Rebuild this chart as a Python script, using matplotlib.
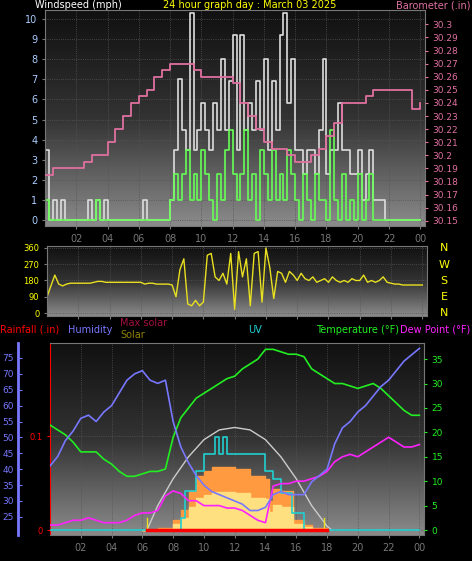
import numpy as np
import matplotlib.pyplot as plt
from matplotlib.colors import LinearSegmentedColormap

# ---- data ----
gust = [3.5,0,1,0,1,0,0,0,0,
        0,0,1,0,1,0,1,0,
        0,0,0,0,0,0,0,0,
        1,0,0,0,0,0,0,1,
        3.5,7,4.5,3.5,10.3,3.5,4.5,5.8,
        4.5,3.5,5.8,4.5,8,4.5,6.9,9.2,
        3.5,9.2,4.5,5.8,4.5,6.9,4.5,8,
        3.5,6.9,4.5,9.2,10.3,5.8,8,3.5,
        3.5,2.3,3.5,3.5,2.3,4.5,8,2.3,
        3.5,3.5,5.8,3.5,3.5,2.3,2.3,3.5,
        1,2.3,3.5,1,1,1,0,0,
        0,0,0,0,0,0,0,0]
avg = [1,0,0,0,0,0,0,0,0,
       0,0,0,0,1,0,0,0,
       0,0,0,0,0,0,0,0,
       0,0,0,0,0,0,0,1,
       2.3,1,2.3,3.5,1,2.3,1,3.5,
       2.3,1,0,2.3,1,3.5,4.5,2.3,
       1,2.3,4.5,1,2.3,0,3.5,2.3,
       1,3.5,1,2.3,1,3.5,2.3,1,
       0,2.3,1,0,2.3,1,1,0,
       4.5,1,0,2.3,0,1,0,2.3,
       0,1,2.3,0,0,0,0,0,
       0,0,0,0,0,0,0,0]
baro = [30.185,30.19,30.19,30.19,30.19,30.195,30.2,30.2,30.21,30.22,30.23,30.24,
        30.245,30.25,30.26,30.265,30.27,30.27,30.27,30.265,30.26,30.26,30.26,30.26,
        30.255,30.24,30.23,30.22,30.21,30.205,30.205,30.2,30.195,30.195,30.2,30.205,
        30.215,30.225,30.24,30.24,30.24,30.245,30.25,30.25,30.25,30.25,30.25,30.235,30.24]
wdir = [90,150,210,160,150,160,165,165,165,
        165,165,165,170,175,175,170,170,
        170,170,170,170,170,170,170,170,
        160,165,165,160,160,160,160,155,
        90,240,300,50,40,70,40,60,
        320,330,200,180,220,160,330,20,
        340,200,300,40,330,340,60,360,
        250,80,230,220,170,230,210,180,
        220,190,180,200,170,180,190,170,
        200,180,170,180,170,190,180,180,
        210,170,180,170,180,200,170,165,
        160,160,155,155,155,155,155,155]
humidity = [41,44,49,52,56,57,55,58,60,64,68,70,71,68,67,68,55,47,42,38,35,33,32,31,
            30,29,27,27,28,32,33,32,32,32,36,38,40,48,53,55,58,60,63,66,68,71,74,76,78]
temp = [21.5,20.5,19.5,18,16,16,16,14.5,13.5,12,11,11,11.5,12,12,12.5,19,23,25,27,28,29,30,31,
        31.5,33,34,35,37,37,36.5,36,36,35.5,33,32,31,30,30,29.5,29,29.5,30,29,27.5,26,24.5,23.5,23.5]
dew = [1,1,1.5,2,2,2.5,2,1.5,1.5,1.5,2,3,3.5,3.5,4,7,8,7.5,6,6,5,5,5,4.5,
       4.5,4,3,2,1.5,9,9.5,9.5,10,10,10.5,11,12,14,15,15.5,15,16,17,18,19,18,17,17,17.5]
uv_h = [0,8.5,8.75,9.5,10,10.75,11,11.25,11.5,14,14.5,15,15.7,16.5,24]
uv_v = [0,2.5,8,12,15.5,19,15.5,19,15.5,12,10.5,7.5,3.5,0,0]
solar_h = [6,7,8,8.5,9,9.5,10,10.5,11,12,13,14,14.2,14.5,15,15.5,15.8,16.5,17,18]
solar_v = [0,0.5,2,4,8,11,12,13,13,12.5,11,10.5,6,8.5,8,8,2,1,0.5,0]
maxsol_h = [6.3,7,8,9,10,11,12,13,14,15,16,17,18,18.3]
maxsol_v = [0,5,10.5,15,18.5,20.5,21,20.5,18.5,15,10.5,5,0.8,0]
rain_h = [6.3, 18]
rain_v = [0, 0]
hours = list(range(2, 25, 2))
hour_labels = ['02','04','06','08','10','12','14','16','18','20','22','00']

W, H = 472, 561
fig = plt.figure(figsize=(W/100, H/100), dpi=100, facecolor='black')
plt.rcParams['font.size'] = 7

def box(l, t, r, b):
    return [l/W, 1-b/H, (r-l)/W, (b-t)/H]

bg = LinearSegmentedColormap.from_list('bg', ['#111111', '#333333', '#8a8a8a'])

def setup(ax, ylim):
    ax.set_facecolor('black')
    ax.set_xlim(0, 24.3)
    ax.set_ylim(*ylim)
    ax.imshow(np.linspace(0, 1, 100)[:, None], cmap=bg, aspect='auto',
              extent=[0, 24.3, ylim[0], ylim[1]], origin='upper', zorder=0)
    ax.grid(True, color='#555555', linestyle=':', linewidth=0.6)
    for s in ax.spines.values():
        s.set_color('#777777')
    ax.set_xticks(hours)
    ax.set_xticklabels(hour_labels, color='yellow')
    ax.tick_params(colors='#777777', labelsize=7, length=2)

# ---- top panel ----
ax1 = fig.add_axes(box(45, 10, 425, 226))
setup(ax1, (-0.3, 10.45))
t_w = np.linspace(0, 24, len(gust))
ax1.plot(t_w, gust, drawstyle='steps-post', color='#dddddd', lw=1.2)
ax1.plot(t_w, avg, drawstyle='steps-post', color='#66ff55', lw=1.2)
ax1.set_yticks(range(0, 11))
ax1.tick_params(axis='y', labelcolor='#aaccff')
ax1b = ax1.twinx()
ax1b.set_ylim(30.146, 30.311)
bt = np.round(np.arange(30.15, 30.305, 0.01), 2)
ax1b.set_yticks(bt)
ax1b.set_yticklabels([f'{v:g}' for v in bt])
ax1b.tick_params(colors='#e070a0', labelsize=6.5, length=2)
ax1b.plot(np.linspace(0, 24, len(baro)), baro, drawstyle='steps-post', color='#e070a0', lw=1.3)
for s in ax1b.spines.values():
    s.set_visible(False)
fig.text(35/W, 1-5/H, 'Windspeed (mph)', color='white', va='center')
fig.text(250/W, 1-5/H, '24 hour graph day : March 03 2025', color='yellow', va='center', ha='center')
fig.text(470/W, 1-5/H, 'Barometer (.in)', color='#e070a0', va='center', ha='right')

# ---- middle panel ----
ax2 = fig.add_axes(box(47, 246, 427, 316))
setup(ax2, (-16.6, 371))
ax2.plot(np.linspace(0, 24, len(wdir)), wdir, color='#e8e020', lw=1)
ax2.set_yticks([0, 90, 180, 270, 360])
ax2.tick_params(axis='y', labelcolor='yellow', labelsize=6)
ax2.set_xticklabels([])
for y, c in zip([248, 265, 281, 297, 313], 'NWSEN'):
    fig.text(444/W, 1-y/H, c, color='yellow', ha='center', va='center', fontsize=8)

# ---- bottom panel: rainfall axis on the left ----
ax3 = fig.add_axes(box(50, 343, 424, 535))
setup(ax3, (-0.0053, 0.199))
ax3.set_yticks([0, 0.1])
ax3.set_yticklabels(['0', '0.1'])
ax3.tick_params(axis='y', colors='red', labelsize=6, length=2)
ax3.spines['left'].set_color('red')

# temperature / dew point / solar / UV on the right axis
axt = ax3.twinx()
axt.set_ylim(-1.02, 38.3)
axt.fill_between(solar_h, solar_v, color='#ff9a40', step='post', zorder=2)
axt.fill_between(solar_h, np.array(solar_v)*0.6, color='#ffe080', step='post', zorder=2)
axt.plot(maxsol_h, maxsol_v, color='#cccccc', lw=1, zorder=3)
axt.plot(uv_h, uv_v, drawstyle='steps-post', color='#20d0d0', lw=1.2, zorder=4)
t_b = np.linspace(0, 24, len(temp))
axt.plot(t_b, temp, color='#22ee22', lw=1.2, zorder=5)
axt.plot(t_b, dew, color='#ff22ff', lw=1.2, zorder=5)
for x in [6.3, 17.8]:
    axt.plot([x, x], [0, 2.5], color='#e8e020', lw=1, zorder=6)
axt.set_yticks(range(0, 36, 5))
axt.tick_params(axis='y', colors='#22ee22', labelsize=6.5, length=2)
for s in axt.spines.values():
    s.set_visible(False)

# rainfall on top of everything, on its own scale
axr = ax3.twinx()
axr.set_ylim(ax3.get_ylim())
axr.plot(rain_h, rain_v, color='red', lw=2.5, zorder=6)
axr.set_yticks([])
for s in axr.spines.values():
    s.set_visible(False)

axh = ax3.twinx()
axh.set_ylim(19.3, 79.7)
axh.plot(t_b, humidity, color='#7777ff', lw=1.2, zorder=5)
axh.yaxis.tick_left()
axh.spines['left'].set_position(('outward', 23))
axh.spines['left'].set_color('#7777ff')
axh.spines['left'].set_linewidth(2)
for s in ['right', 'top', 'bottom']:
    axh.spines[s].set_visible(False)
axh.set_yticks(range(25, 80, 5))
axh.tick_params(axis='y', colors='#7777ff', labelsize=6.5, length=3, direction='in', pad=3)

fig.text(0, 1-330/H, 'Rainfall (.in)', color='red', va='center')
fig.text(68/W, 1-330/H, 'Humidity', color='#7777ff', va='center')
fig.text(120/W, 1-323/H, 'Max solar', color='#a01040', va='center')
fig.text(120/W, 1-335/H, 'Solar', color='#908000', va='center')
fig.text(248/W, 1-330/H, 'UV', color='#20d0d0', va='center')
fig.text(316/W, 1-330/H, 'Temperature (°F)', color='#22ee22', va='center')
fig.text(470/W, 1-330/H, 'Dew Point (°F)', color='#ff22ff', va='center', ha='right')

fig.savefig('out.png', dpi=100, facecolor='black')
